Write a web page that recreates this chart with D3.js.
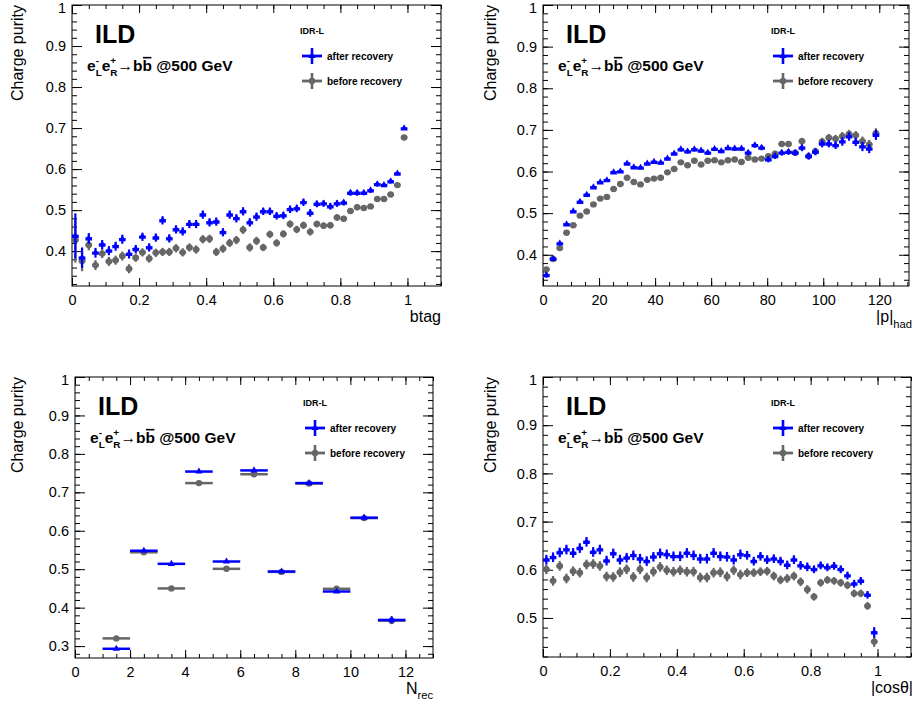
<!DOCTYPE html>
<html lang="en">
<head>
<meta charset="UTF-8">
<title>Charge purity</title>
<script src="https://d3js.org/d3.v7.min.js"></script>
<style>
    body { margin: 0; background: #fff; }
    svg { font-family: "Liberation Sans", Arial, Helvetica, sans-serif; }
</style>
</head>
<body>
<svg width="915" height="705"></svg>
<script>
// ---- data ----
// btag: 50 bins in [0,1]
const btagAfter = [0.437,0.384,0.431,0.396,0.416,0.401,0.412,0.429,0.393,0.405,
    0.435,0.409,0.433,0.475,0.431,0.453,0.448,0.466,0.466,0.489,
    0.470,0.472,0.446,0.489,0.480,0.497,0.470,0.484,0.497,0.497,
    0.486,0.487,0.502,0.504,0.519,0.493,0.515,0.516,0.509,0.516,
    0.518,0.542,0.542,0.542,0.548,0.563,0.561,0.570,0.589,0.699];
const btagBefore = [0.427,0.376,0.415,0.366,0.394,0.375,0.378,0.388,0.357,0.384,
    0.397,0.382,0.396,0.398,0.398,0.407,0.397,0.409,0.404,0.429,
    0.430,0.398,0.406,0.420,0.427,0.452,0.409,0.425,0.409,0.441,
    0.420,0.442,0.466,0.453,0.463,0.447,0.466,0.462,0.463,0.482,
    0.479,0.498,0.507,0.505,0.509,0.527,0.527,0.538,0.561,0.677];
const btagErr = [0.055,0.025,0.013,0.012,0.011,0.011,0.011,0.011,0.011,0.010,
    0.010,0.010,0.010,0.010,0.010,0.010,0.010,0.010,0.010,0.010,
    0.010,0.010,0.010,0.010,0.010,0.010,0.010,0.010,0.009,0.009,
    0.009,0.009,0.009,0.009,0.009,0.009,0.008,0.008,0.008,0.008,
    0.007,0.007,0.007,0.006,0.006,0.006,0.005,0.005,0.004,0.003];

// |p|_had: 50 bins in [0,120]
const pAfter = [0.351,0.390,0.427,0.473,0.504,0.527,0.544,0.562,0.574,0.579,
    0.598,0.600,0.619,0.610,0.609,0.619,0.623,0.621,0.631,0.643,
    0.653,0.648,0.653,0.650,0.645,0.654,0.649,0.656,0.655,0.655,
    0.645,0.663,0.657,0.629,0.637,0.645,0.647,0.645,0.657,0.637,
    0.647,0.667,0.667,0.663,0.672,0.684,0.671,0.660,0.655,0.688];
const pBefore = [0.365,0.390,0.416,0.453,0.471,0.494,0.504,0.521,0.535,0.539,
    0.558,0.570,0.585,0.575,0.569,0.580,0.583,0.585,0.598,0.606,
    0.622,0.615,0.626,0.617,0.626,0.627,0.622,0.627,0.629,0.623,
    0.633,0.629,0.631,0.637,0.643,0.666,0.666,0.645,0.673,0.637,
    0.649,0.672,0.681,0.679,0.685,0.690,0.687,0.673,0.665,0.692];
const pErr = [0.006,0.005,0.004,0.004,0.004,0.004,0.004,0.004,0.004,0.004,
    0.004,0.004,0.004,0.004,0.004,0.004,0.004,0.004,0.004,0.004,
    0.005,0.005,0.005,0.005,0.005,0.005,0.005,0.005,0.005,0.005,
    0.006,0.006,0.006,0.007,0.007,0.007,0.007,0.007,0.008,0.008,
    0.008,0.009,0.009,0.009,0.010,0.010,0.010,0.011,0.011,0.012];

// N_rec: 11 bins in [1,12]
const nrecAfter  = [0.293,0.548,0.514,0.754,0.520,0.757,0.494,0.724,0.442,0.634,0.368];
const nrecBefore = [0.320,0.544,0.450,0.724,0.501,0.747,0.493,0.723,0.449,0.633,0.366];
const nrecErr    = [0.003,0.002,0.002,0.002,0.002,0.002,0.002,0.003,0.004,0.005,0.009];

// |cos theta|: 50 bins in [0,1]
const cosAfter = [0.621,0.626,0.636,0.642,0.635,0.645,0.658,0.637,0.642,0.619,
    0.634,0.621,0.625,0.630,0.623,0.618,0.627,0.634,0.632,0.628,
    0.628,0.635,0.630,0.623,0.623,0.635,0.628,0.627,0.621,0.632,
    0.630,0.618,0.628,0.621,0.623,0.618,0.610,0.621,0.609,0.606,
    0.601,0.609,0.605,0.608,0.601,0.588,0.571,0.577,0.548,0.470];
const cosBefore = [0.601,0.577,0.608,0.582,0.597,0.594,0.611,0.612,0.608,0.586,
    0.585,0.595,0.601,0.585,0.601,0.584,0.596,0.606,0.599,0.596,
    0.599,0.596,0.596,0.584,0.584,0.594,0.595,0.586,0.599,0.590,
    0.594,0.594,0.596,0.597,0.587,0.579,0.582,0.587,0.575,0.559,
    0.544,0.573,0.579,0.577,0.573,0.568,0.551,0.551,0.525,0.451];
const cosErr = [0.010,0.010,0.010,0.010,0.010,0.010,0.010,0.010,0.010,0.010,
    0.010,0.010,0.010,0.010,0.010,0.010,0.010,0.010,0.010,0.010,
    0.010,0.010,0.010,0.010,0.010,0.010,0.010,0.010,0.010,0.010,
    0.009,0.009,0.009,0.009,0.009,0.009,0.009,0.009,0.009,0.009,
    0.008,0.008,0.008,0.008,0.008,0.008,0.008,0.008,0.008,0.011];

// tick labels
const unitTicks = [0, 0.2, 0.4, 0.6, 0.8, 1];
const pTicks = [0, 20, 40, 60, 80, 100, 120];
const nrecTicks = [0, 2, 4, 6, 8, 10, 12];
const purityTicks = [0.3, 0.4, 0.5, 0.6, 0.7, 0.8, 0.9, 1];

const legendNames = ["after recovery", "before recovery"];

// ---- drawing ----
const svg = d3.select("svg");
const BLUE = "#0000ff", GREY = "#666666";
const FONT = '"Liberation Sans", Arial, Helvetica, sans-serif';

const meas = svg.append("text").attr("opacity", 0);
function textW(str, size, weight) {
    meas.attr("font-size", size).attr("font-weight", weight).text(str);
    return meas.node().getComputedTextLength();
}

// draw text made of pieces (sub/superscripts, overline)
function rich(g, x, y, parts, size, weight, anchor) {
    const widths = parts.map(p => p.stack
        ? d3.max(p.stack, s => textW(s.t, size * p.s, weight))
        : textW(p.t, size * (p.s || 1), weight));
    let cx = anchor === "end" ? x - d3.sum(widths) : x;
    parts.forEach((p, i) => {
        const items = p.stack || [p];
        items.forEach(s => {
            g.append("text").attr("x", cx).attr("y", y + (s.dy || 0))
                .attr("font-size", size * (p.s || 1)).attr("font-weight", weight)
                .text(s.t);
        });
        if (p.over) {
            g.append("line").attr("x1", cx + 0.5).attr("x2", cx + widths[i] - 0.5)
                .attr("y1", y - size * 0.86).attr("y2", y - size * 0.86)
                .attr("stroke", "#000").attr("stroke-width", 1.6);
        }
        cx += widths[i];
    });
}

const processText = [
    {t: "e"}, {stack: [{t: "-", dy: -7}, {t: "L", dy: 5}], s: 0.64},
    {t: "e"}, {stack: [{t: "+", dy: -7}, {t: "R", dy: 5}], s: 0.64},
    {t: "\u2192"}, {t: "b"}, {t: "b", over: true}, {t: "\u00a0@500 GeV"}
];

const panels = [
    {frame: [72, 441, 5, 286], xDom: [0, 1.1], yDom: [0.315, 1], bins: [0, 1, 50],
     after: btagAfter, before: btagBefore, err: btagErr,
     xTicks: unitTicks, xMinor: 0.05, title: [{t: "btag"}], titleDx: 0, yTitleX: 23},
    {frame: [543, 909, 5, 286], xDom: [0, 130.6], yDom: [0.325, 1], bins: [0, 120, 50],
     after: pAfter, before: pBefore, err: pErr,
     xTicks: pTicks, xMinor: 5, title: [{t: "|p|"}, {t: "had", s: 0.7, dy: 6}], titleDx: 3, yTitleX: 496},
    {frame: [75, 433, 377, 658], xDom: [0, 13], yDom: [0.269, 1], bins: [1, 12, 11],
     after: nrecAfter, before: nrecBefore, err: nrecErr,
     xTicks: nrecTicks, xMinor: 0.5, title: [{t: "N"}, {t: "rec", s: 0.7, dy: 5}], titleDx: 0, yTitleX: 23},
    {frame: [543, 911, 377, 657], xDom: [0, 1.1], yDom: [0.419, 1], bins: [0, 1, 50],
     after: cosAfter, before: cosBefore, err: cosErr,
     xTicks: unitTicks, xMinor: 0.05, title: [{t: "|cos\u03b8|"}], titleDx: 2, yTitleX: 496}
];

function styleAxis(sel, size) {
    sel.select(".domain").remove();
    sel.attr("font-family", FONT).attr("font-size", size);
    sel.selectAll("line").attr("stroke", "#000");
    sel.selectAll("text").attr("fill", "#000");
}

panels.forEach(p => {
    const [x0, x1, y0, y1] = p.frame;
    const x = d3.scaleLinear().domain(p.xDom).range([x0, x1]);
    const y = d3.scaleLinear().domain(p.yDom).range([y1, y0]);
    const g = svg.append("g");

    const xMinor = d3.range(0, Math.round(p.xDom[1] / p.xMinor) + 1)
        .map(i => +(i * p.xMinor).toFixed(4)).filter(v => v <= p.xDom[1]);
    const yMinor = d3.range(0, 51).map(i => +(i * 0.02).toFixed(3))
        .filter(v => v >= p.yDom[0] && v <= 1);
    const yTicks = purityTicks.filter(v => v >= p.yDom[0]);
    const fmt = d3.format("~g");

    // axes with inward ticks on all four sides
    g.append("g").attr("transform", `translate(0,${y1})`)
        .call(d3.axisBottom(x).tickValues(p.xTicks).tickSize(-8).tickPadding(9).tickFormat(fmt))
        .call(styleAxis, 14.5);
    g.append("g").attr("transform", `translate(0,${y1})`)
        .call(d3.axisBottom(x).tickValues(xMinor).tickSize(-4).tickFormat(""))
        .call(styleAxis, 14.5);
    g.append("g").attr("transform", `translate(0,${y0})`)
        .call(d3.axisTop(x).tickValues(p.xTicks).tickSize(-8).tickFormat(""))
        .call(styleAxis, 14.5);
    g.append("g").attr("transform", `translate(0,${y0})`)
        .call(d3.axisTop(x).tickValues(xMinor).tickSize(-4).tickFormat(""))
        .call(styleAxis, 14.5);
    const yAx = g.append("g").attr("transform", `translate(${x0},0)`)
        .call(d3.axisLeft(y).tickValues(yTicks).tickSize(-10).tickPadding(6).tickFormat(fmt))
        .call(styleAxis, 14.5);
    // keep the top label "1" inside the page
    yAx.selectAll(".tick").filter(d => d === 1).select("text").attr("dy", "0.5em");
    g.append("g").attr("transform", `translate(${x0},0)`)
        .call(d3.axisLeft(y).tickValues(yMinor).tickSize(-5).tickFormat(""))
        .call(styleAxis, 14.5);
    g.append("g").attr("transform", `translate(${x1},0)`)
        .call(d3.axisRight(y).tickValues(yTicks).tickSize(-10).tickFormat(""))
        .call(styleAxis, 14.5);
    g.append("g").attr("transform", `translate(${x1},0)`)
        .call(d3.axisRight(y).tickValues(yMinor).tickSize(-5).tickFormat(""))
        .call(styleAxis, 14.5);

    g.append("rect").attr("x", x0).attr("y", y0).attr("width", x1 - x0).attr("height", y1 - y0)
        .attr("fill", "none").attr("stroke", "#000").attr("stroke-width", 1);

    // histogram points with error bars
    const [lo, hi, n] = p.bins;
    const bw = (hi - lo) / n;
    const series = [
        {vals: p.before, color: GREY, marker: "circle"},
        {vals: p.after, color: BLUE, marker: "triangle"}
    ];
    series.forEach(s => {
        const pts = s.vals.map((v, i) => ({c: lo + (i + 0.5) * bw, v, e: p.err[i]}));
        const sg = g.append("g").attr("stroke", s.color).attr("fill", s.color);
        sg.selectAll(".hb").data(pts).join("line").attr("class", "hb")
            .attr("x1", d => x(d.c - bw / 2)).attr("x2", d => x(d.c + bw / 2))
            .attr("y1", d => y(d.v)).attr("y2", d => y(d.v)).attr("stroke-width", 2.5);
        sg.selectAll(".vb").data(pts).join("line").attr("class", "vb")
            .attr("x1", d => x(d.c)).attr("x2", d => x(d.c))
            .attr("y1", d => y(d.v - d.e)).attr("y2", d => y(d.v + d.e)).attr("stroke-width", 2.2);
        if (s.marker === "circle") {
            sg.selectAll(".mk").data(pts).join("circle").attr("class", "mk")
                .attr("cx", d => x(d.c)).attr("cy", d => y(d.v)).attr("r", 3.2).attr("stroke", "none");
        } else {
            sg.selectAll(".mk").data(pts).join("path").attr("class", "mk")
                .attr("d", d3.symbol(d3.symbolTriangle, 22))
                .attr("transform", d => `translate(${x(d.c)},${y(d.v)})`).attr("stroke", "none");
        }
    });

    // labels
    g.append("text").attr("x", x0 + 23).attr("y", y0 + 38)
        .attr("font-size", 25).attr("font-weight", "bold").text("ILD");
    rich(g, x0 + 15, y0 + 66, processText, 15.5, "bold", "start");

    g.append("text").attr("x", x0 + 228).attr("y", y0 + 29)
        .attr("font-size", 9).attr("font-weight", "bold").text("IDR-L");
    [BLUE, GREY].forEach((c, i) => {
        const cy = y0 + 51 + i * 25;
        const cx = x0 + 240;
        g.append("line").attr("x1", cx - 10).attr("x2", cx + 10).attr("y1", cy).attr("y2", cy)
            .attr("stroke", c).attr("stroke-width", 2.8);
        g.append("line").attr("x1", cx).attr("x2", cx).attr("y1", cy - 8).attr("y2", cy + 8)
            .attr("stroke", c).attr("stroke-width", 2.6);
        if (i === 0) {
            g.append("path").attr("d", d3.symbol(d3.symbolTriangle, 22)).attr("fill", c)
                .attr("transform", `translate(${cx},${cy})`);
        } else {
            g.append("circle").attr("cx", cx).attr("cy", cy).attr("r", 3.2).attr("fill", c);
        }
        g.append("text").attr("x", x0 + 255).attr("y", cy + 4)
            .attr("font-size", 10).attr("font-weight", "bold").text(legendNames[i]);
    });

    // axis titles
    g.append("text").attr("transform", `translate(${p.yTitleX},${y0}) rotate(-90)`)
        .attr("text-anchor", "end").attr("font-size", 16).text("Charge purity");
    rich(g, x1 + p.titleDx, y1 + 36, p.title, 16, "normal", "end");
});
</script>
</body>
</html>
